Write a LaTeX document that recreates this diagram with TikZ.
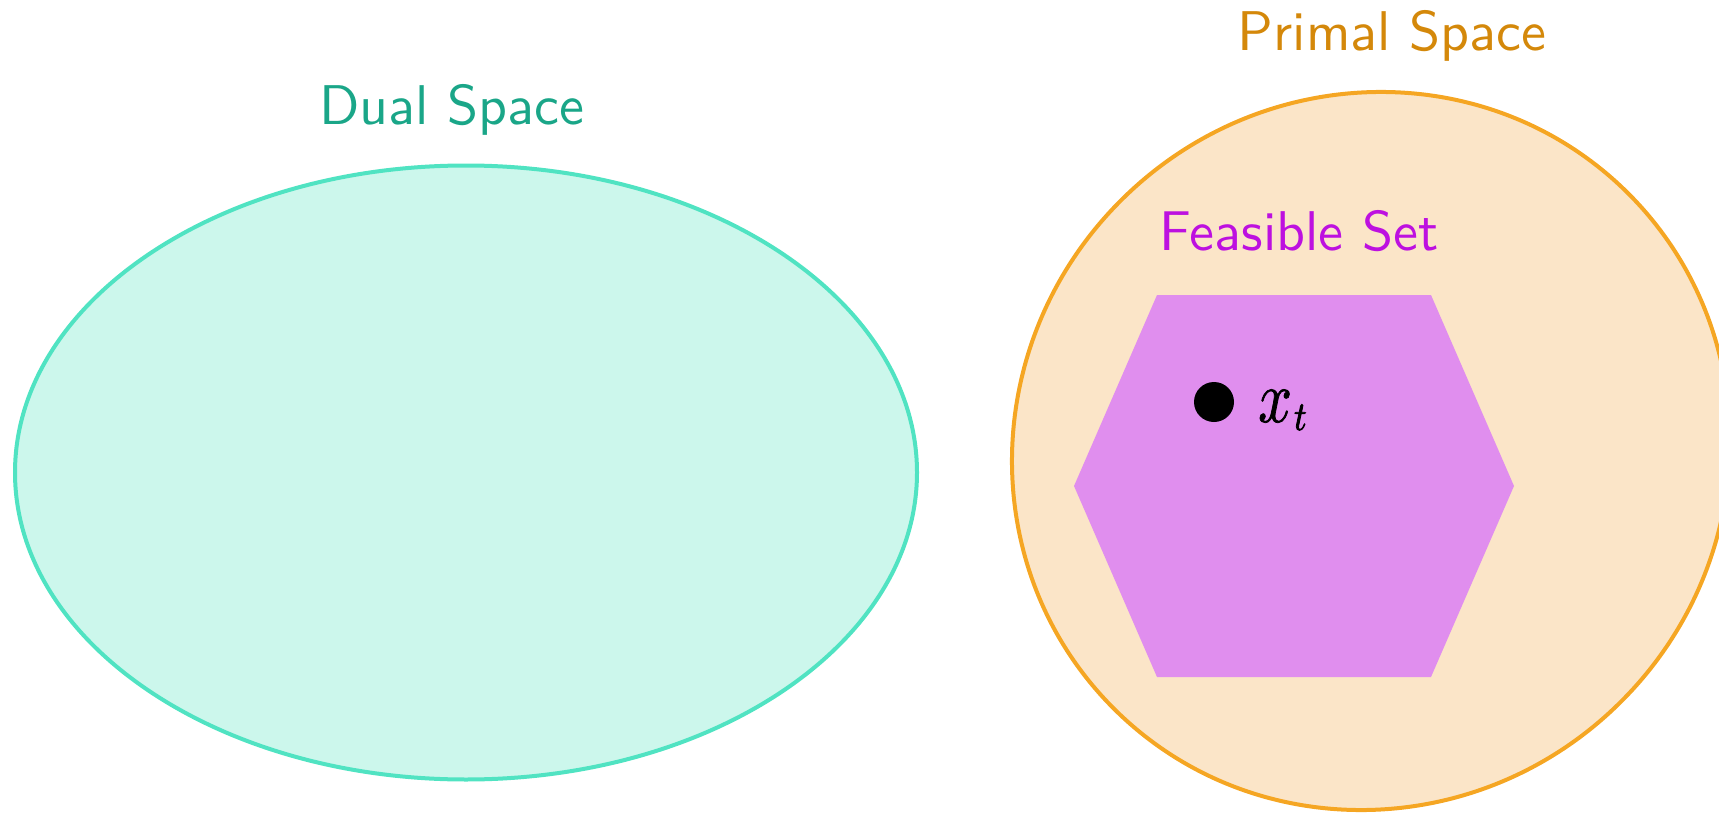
\documentclass[tikz,border=0pt]{standalone}
\usepackage{fontspec}
\newfontfamily\lmsten{lmsans10-regular.otf}
\newfontfamily\mathx[FakeStretch=0.8, RawFeature={embolden=1}]{latinmodern-math.otf}
\newfontfamily\mathxs[FakeStretch=0.85, RawFeature={embolden=2}]{latinmodern-math.otf}
\definecolor{dualfill}{HTML}{CCF7EC}
\definecolor{dualline}{HTML}{50E3C2}
\definecolor{dualtext}{HTML}{1AA688}
\definecolor{primfill}{HTML}{FBE5C8}
\definecolor{primline}{HTML}{F5A623}
\definecolor{primtext}{HTML}{D4880A}
\definecolor{feastext}{HTML}{BD10E0}
\definecolor{feasfill}{HTML}{E08EEE}
\tikzset{
  lbl/.style={font=\lmsten\fontsize{56}{60}\selectfont, inner sep=0pt, anchor=base},
  region/.style={line width=4pt}
}
\begin{document}
\begin{tikzpicture}[x=1pt,y=-1pt]
\useasboundingbox (0,0) rectangle (1719,816);
\clip (0,0) rectangle (1719,816);
% dual space
\draw[region, fill=dualfill, draw=dualline] (466,472.5) ellipse [x radius=451pt, y radius=307pt];
% primal space
\draw[region, fill=primfill, draw=primline, rotate around={45:(1371,451)}] (1371,451) ellipse [x radius=364pt, y radius=354pt];
% feasible set
\fill[feasfill] (1157,295) -- (1431,295) -- (1514,486) -- (1431,677) -- (1157,677) -- (1074,486) -- cycle;
% labels
\node[lbl, text=dualtext] (dual) at (452,124) {Dual Space};
\node[lbl, text=primtext] (primal) at (1392,51) {Primal Space};
\node[lbl, text=feastext] (feas) at (1299,250) {Feasible Set};
% point
\node[circle, fill=black, minimum size=40pt, inner sep=0pt] (dot) at (1214,402) {};
\node[anchor=base west, inner sep=0pt] (xt) at (1258,422) {\mathx\fontsize{74}{78}\selectfont 𝑥\kern2pt\raisebox{-8pt}{\mathxs\fontsize{41}{44}\selectfont 𝑡}};
\end{tikzpicture}
\end{document}
